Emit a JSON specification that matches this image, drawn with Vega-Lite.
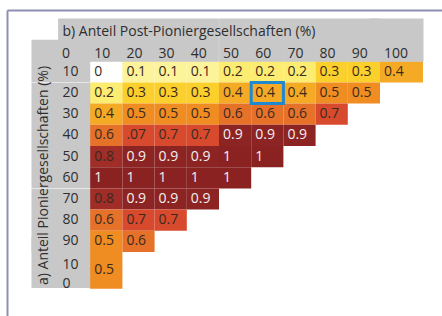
{
  "$schema": "https://vega.github.io/schema/vega-lite/v6.json",
  "width": 435,
  "height": 306,
  "padding": {"left": 7, "top": 10, "right": 0, "bottom": 0},
  "autosize": {"type": "none"},
  "background": "white",
  "config": {"view": {"stroke": null}, "font": "Open Sans"},
  "data": {
    "values": [
      {"row": "10", "col": "10", "v": 0, "t": "0"},
      {"row": "10", "col": "20", "v": 0.1, "t": "0.1"},
      {"row": "10", "col": "30", "v": 0.1, "t": "0.1"},
      {"row": "10", "col": "40", "v": 0.1, "t": "0.1"},
      {"row": "10", "col": "50", "v": 0.2, "t": "0.2"},
      {"row": "10", "col": "60", "v": 0.2, "t": "0.2"},
      {"row": "10", "col": "70", "v": 0.2, "t": "0.2"},
      {"row": "10", "col": "80", "v": 0.3, "t": "0.3"},
      {"row": "10", "col": "90", "v": 0.3, "t": "0.3"},
      {"row": "10", "col": "100", "v": 0.4, "t": "0.4"},
      {"row": "20", "col": "10", "v": 0.2, "t": "0.2"},
      {"row": "20", "col": "20", "v": 0.3, "t": "0.3"},
      {"row": "20", "col": "30", "v": 0.3, "t": "0.3"},
      {"row": "20", "col": "40", "v": 0.3, "t": "0.3"},
      {"row": "20", "col": "50", "v": 0.4, "t": "0.4"},
      {"row": "20", "col": "60", "v": 0.4, "t": "0.4"},
      {"row": "20", "col": "70", "v": 0.4, "t": "0.4"},
      {"row": "20", "col": "80", "v": 0.5, "t": "0.5"},
      {"row": "20", "col": "90", "v": 0.5, "t": "0.5"},
      {"row": "30", "col": "10", "v": 0.4, "t": "0.4"},
      {"row": "30", "col": "20", "v": 0.5, "t": "0.5"},
      {"row": "30", "col": "30", "v": 0.5, "t": "0.5"},
      {"row": "30", "col": "40", "v": 0.5, "t": "0.5"},
      {"row": "30", "col": "50", "v": 0.6, "t": "0.6"},
      {"row": "30", "col": "60", "v": 0.6, "t": "0.6"},
      {"row": "30", "col": "70", "v": 0.6, "t": "0.6"},
      {"row": "30", "col": "80", "v": 0.7, "t": "0.7"},
      {"row": "40", "col": "10", "v": 0.6, "t": "0.6"},
      {"row": "40", "col": "20", "v": 0.7, "t": ".07"},
      {"row": "40", "col": "30", "v": 0.7, "t": "0.7"},
      {"row": "40", "col": "40", "v": 0.7, "t": "0.7"},
      {"row": "40", "col": "50", "v": 0.9, "t": "0.9"},
      {"row": "40", "col": "60", "v": 0.9, "t": "0.9"},
      {"row": "40", "col": "70", "v": 0.9, "t": "0.9"},
      {"row": "50", "col": "10", "v": 0.8, "t": "0.8"},
      {"row": "50", "col": "20", "v": 0.9, "t": "0.9"},
      {"row": "50", "col": "30", "v": 0.9, "t": "0.9"},
      {"row": "50", "col": "40", "v": 0.9, "t": "0.9"},
      {"row": "50", "col": "50", "v": 1, "t": "1"},
      {"row": "50", "col": "60", "v": 1, "t": "1"},
      {"row": "60", "col": "10", "v": 1, "t": "1"},
      {"row": "60", "col": "20", "v": 1, "t": "1"},
      {"row": "60", "col": "30", "v": 1, "t": "1"},
      {"row": "60", "col": "40", "v": 1, "t": "1"},
      {"row": "60", "col": "50", "v": 1, "t": "1"},
      {"row": "70", "col": "10", "v": 0.8, "t": "0.8"},
      {"row": "70", "col": "20", "v": 0.9, "t": "0.9"},
      {"row": "70", "col": "30", "v": 0.9, "t": "0.9"},
      {"row": "70", "col": "40", "v": 0.9, "t": "0.9"},
      {"row": "80", "col": "10", "v": 0.6, "t": "0.6"},
      {"row": "80", "col": "20", "v": 0.7, "t": "0.7"},
      {"row": "80", "col": "30", "v": 0.7, "t": "0.7"},
      {"row": "90", "col": "10", "v": 0.5, "t": "0.5"},
      {"row": "90", "col": "20", "v": 0.6, "t": "0.6"},
      {"row": "100", "col": "10", "v": 0.5, "t": "0.5"}
    ]
  },
  "encoding": {
    "x": {
      "field": "col",
      "type": "ordinal",
      "scale": {
        "domain": ["L", "0", "10", "20", "30", "40", "50", "60", "70", "80", "90", "100"],
        "paddingInner": 0,
        "paddingOuter": 0.7547,
        "align": 0.3868
      },
      "axis": {
        "orient": "top",
        "values": ["0", "10", "20", "30", "40", "50", "60", "70", "80", "90", "100"],
        "zindex": 1,
        "grid": false,
        "domain": true,
        "domainColor": "#8d8fb3",
        "domainWidth": 2,
        "ticks": true,
        "tickColor": "#c8c8c8",
        "tickWidth": {"condition": {"test": "datum.value == '100'", "value": 54}, "value": 32.8},
        "tickSize": -51.2,
        "tickDash": [0, 8, 43.5, 300],
        "tickCap": "butt",
        "labelAngle": 0,
        "labelAlign": "left",
        "labelBaseline": "middle",
        "labelOffset": -12.1,
        "labelPadding": 8.2,
        "labelFont": "Open Sans",
        "labelFontSize": 14,
        "labelColor": "#2e2e2e",
        "title": "b) Anteil Post-Pioniergesellschaften (%)",
        "titleX": 55,
        "titleY": 21,
        "titleAlign": "left",
        "titleAnchor": "start",
        "titleBaseline": "middle",
        "titleFont": "Open Sans",
        "titleFontSize": 14,
        "titleFontWeight": "normal",
        "titleColor": "#2e2e2e"
      }
    },
    "y": {
      "field": "row",
      "type": "ordinal",
      "scale": {
        "domain": ["T", "hdr", "10", "20", "30", "40", "50", "60", "70", "80", "90", "100", "B"],
        "paddingInner": 0,
        "paddingOuter": 0.717,
        "align": 0.2895
      },
      "axis": {
        "orient": "left",
        "values": ["hdr", "10", "20", "30", "40", "50", "60", "70", "80", "90", "100"],
        "zindex": 0,
        "grid": false,
        "domain": true,
        "domainColor": "#8d8fb3",
        "domainWidth": 2,
        "ticks": true,
        "tickColor": "#c8c8c8",
        "tickWidth": {"condition": {"test": "datum.value == '100'", "value": 51}, "value": 21.7},
        "tickSize": -84,
        "tickDash": [0, 24, 59.5, 300],
        "tickCap": "butt",
        "labelExpr": "datum.value == 'hdr' ? '' : datum.value == '100' ? ['10', '0'] : datum.value",
        "labelAlign": "left",
        "labelBaseline": "middle",
        "labelOffset": {"condition": {"test": "datum.value == '100'", "value": 2}, "value": 0},
        "labelPadding": 29,
        "labelLineHeight": 19,
        "labelFont": "Open Sans",
        "labelFontSize": 14,
        "labelColor": "#2e2e2e",
        "title": "a) Anteil Pioniergesellschaften (%)",
        "titleX": 36,
        "titleY": 165,
        "titleAngle": 270,
        "titleAlign": "center",
        "titleBaseline": "middle",
        "titleFont": "Open Sans",
        "titleFontSize": 14,
        "titleFontWeight": "normal",
        "titleColor": "#2e2e2e"
      }
    },
    "color": {
      "field": "v",
      "type": "ordinal",
      "scale": {
        "domain": [0, 0.1, 0.2, 0.3, 0.4, 0.5, 0.6, 0.7, 0.8, 0.9, 1],
        "range": ["#ffffff", "#fdf39a", "#fcec72", "#fbcf2c", "#f4aa24", "#ef8c22", "#e6722a", "#d84a2d", "#a02d27", "#8c2424", "#8a2222"]
      },
      "legend": null
    }
  },
  "layer": [
    {
      "transform": [{"filter": "datum.row != '100' && datum.col != '100'"}],
      "mark": {"type": "rect"}
    },
    {
      "transform": [{"filter": "datum.row == '100'"}],
      "mark": {"type": "rect", "height": {"band": 1.736}, "yOffset": 7.8}
    },
    {
      "transform": [{"filter": "datum.col == '100'"}],
      "mark": {"type": "rect", "width": {"band": 1.335}, "xOffset": 5.4}
    },
    {
      "transform": [{"filter": "datum.row == '20' && datum.col == '60'"}],
      "mark": {"type": "rect", "fill": null, "filled": false, "stroke": "#1e88d0", "strokeWidth": 3},
      "encoding": {"color": {"value": null}}
    },
    {
      "transform": [{"filter": "datum.row != '100'"}],
      "mark": {"type": "text", "align": "left", "baseline": "middle", "dx": -12.1, "font": "Open Sans", "fontSize": 14},
      "encoding": {
        "text": {"field": "t"},
        "color": {"condition": {"test": "datum.v >= 0.9", "value": "#f6eeee"}, "value": "#3b2a20"}
      }
    },
    {
      "transform": [{"filter": "datum.row == '100'"}],
      "mark": {"type": "text", "align": "left", "baseline": "middle", "dx": -12.1, "dy": 7.8, "font": "Open Sans", "fontSize": 14},
      "encoding": {
        "text": {"field": "t"},
        "color": {"value": "#3b2a20"}
      }
    }
  ]
}
